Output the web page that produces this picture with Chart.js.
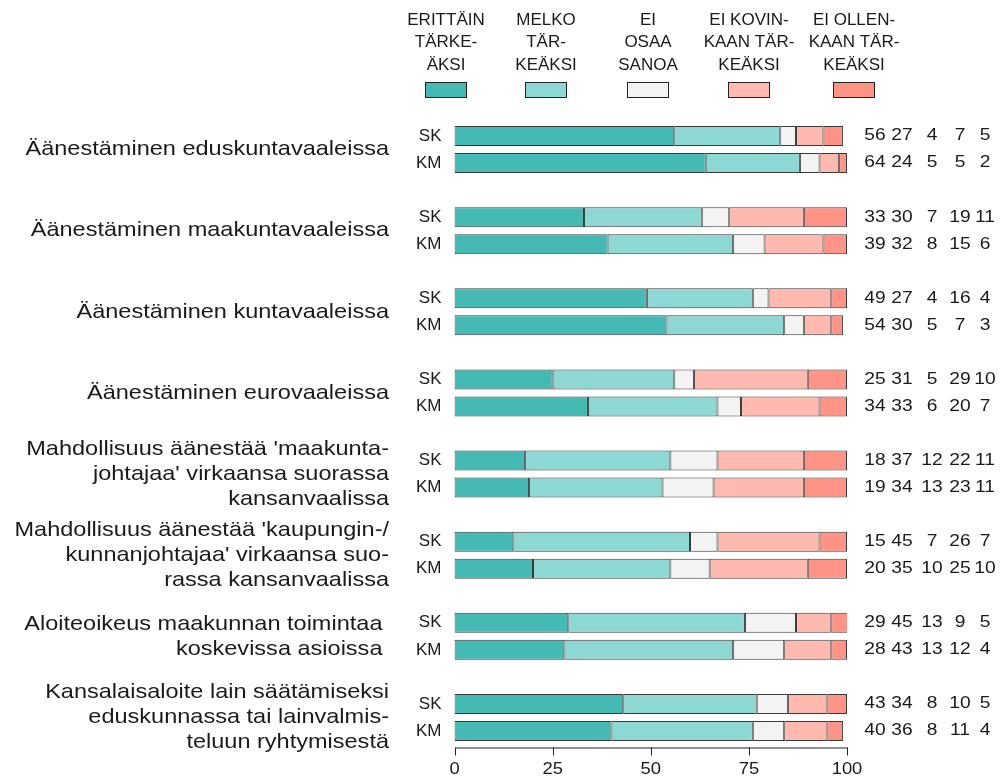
<!DOCTYPE html>
<html lang="fi">
<head>
    <meta charset="UTF-8">
    <title>Äänestäminen ja vaikuttaminen</title>
    <script src="https://cdn.jsdelivr.net/npm/chart.js"></script>
    <style>
        html, body { margin: 0; padding: 0; background: #fff; }
        #wrap { width: 1001px; height: 780px; position: relative; }
    </style>
</head>
<body>
    <div id="wrap"><canvas id="chart"></canvas></div>

    <script>
        // Data
        const groupLabels = [
            ["Äänestäminen eduskuntavaaleissa"],
            ["Äänestäminen maakuntavaaleissa"],
            ["Äänestäminen kuntavaaleissa"],
            ["Äänestäminen eurovaaleissa"],
            ["Mahdollisuus äänestää 'maakunta-", "johtajaa' virkaansa suorassa", "kansanvaalissa"],
            ["Mahdollisuus äänestää 'kaupungin-/", "kunnanjohtajaa' virkaansa suo-", "rassa kansanvaalissa"],
            ["Aloiteoikeus maakunnan toimintaa ", "koskevissa asioissa "],
            ["Kansalaisaloite lain säätämiseksi", "eduskunnassa tai lainvalmis-", "teluun ryhtymisestä"]
        ];
        const rowLabels = ["SK", "KM"];
        const seriesNames = ["Erittäin tärkeäksi", "Melko tärkeäksi", "Ei osaa sanoa", "Ei kovinkaan tärkeäksi", "Ei ollenkaan tärkeäksi"];
        const legendLines = [
            ["ERITTÄIN", "TÄRKE-", "ÄKSI"],
            ["MELKO", "TÄR-", "KEÄKSI"],
            ["EI", "OSAA", "SANOA"],
            ["EI KOVIN-", "KAAN TÄR-", "KEÄKSI"],
            ["EI OLLEN-", "KAAN TÄR-", "KEÄKSI"]
        ];
        // one row per group, values in series order
        const skValues = [
            [56, 27, 4, 7, 5],
            [33, 30, 7, 19, 11],
            [49, 27, 4, 16, 4],
            [25, 31, 5, 29, 10],
            [18, 37, 12, 22, 11],
            [15, 45, 7, 26, 7],
            [29, 45, 13, 9, 5],
            [43, 34, 8, 10, 5]
        ];
        const kmValues = [
            [64, 24, 5, 5, 2],
            [39, 32, 8, 15, 6],
            [54, 30, 5, 7, 3],
            [34, 33, 6, 20, 7],
            [19, 34, 13, 23, 11],
            [20, 35, 10, 25, 10],
            [28, 43, 13, 12, 4],
            [40, 36, 8, 11, 4]
        ];
        const xTicks = [0, 25, 50, 75, 100];

        const colors = ["#45b9b4", "#8ed8d3", "#f3f3f3", "#ffb9ae", "#ff9486"];
        const edge = "#3a3a3a";
        const ink = "#1a1a1a";

        // build category slots: SK, KM, blank gap between groups
        const slots = [];
        const slotData = []; // [group, row] or null
        groupLabels.forEach((g, gi) => {
            rowLabels.forEach((r, ri) => {
                slots.push(r);
                slotData.push([gi, ri]);
            });
            if (gi < groupLabels.length - 1) {
                slots.push("");
                slotData.push(null);
            }
        });

        const datasets = seriesNames.map((name, si) => ({
            label: name,
            data: slotData.map(s => {
                if (!s) return null;
                const src = s[1] === 0 ? skValues : kmValues;
                return src[s[0]][si];
            }),
            backgroundColor: colors[si],
            borderColor: edge,
            borderWidth: 1,
            borderSkipped: false,
            barThickness: 20,
            inflateAmount: 0
        }));

        // text drawn with a slight horizontal stretch, like the original
        function stretchText(ctx, text, x, y, align, sx) {
            const w = ctx.measureText(text).width * sx;
            let left = x;
            if (align === "right") left = x - w;
            else if (align === "center") left = x - w / 2;
            ctx.save();
            ctx.translate(left, y);
            ctx.scale(sx, 1);
            ctx.textAlign = "left";
            ctx.fillText(text, 0, 0);
            ctx.restore();
        }

        const decorations = {
            id: "decorations",
            afterDraw(chart) {
                const ctx = chart.ctx;
                const x = chart.scales.x;
                const y = chart.scales.y;
                ctx.save();
                ctx.fillStyle = ink;
                ctx.textBaseline = "middle";

                // group labels on the left
                ctx.font = "21px 'Liberation Sans', Arial, sans-serif";
                groupLabels.forEach((lines, gi) => {
                    const idx = slotData.findIndex(s => s && s[0] === gi && s[1] === 0);
                    const cy = (y.getPixelForValue(idx) + y.getPixelForValue(idx + 1)) / 2;
                    const lh = 25;
                    const top = cy - (lines.length - 1) * lh / 2;
                    lines.forEach((t, li) => stretchText(ctx, t, 389, top + li * lh, "right", 1.12));
                });

                // values on the right
                ctx.font = "16px 'Liberation Sans', Arial, sans-serif";
                const cols = [875, 902, 932, 960, 985];
                slotData.forEach((s, i) => {
                    if (!s) return;
                    const vals = (s[1] === 0 ? skValues : kmValues)[s[0]];
                    const cy = y.getPixelForValue(i);
                    vals.forEach((v, vi) => stretchText(ctx, String(v), cols[vi], cy, "center", 1.2));
                });

                // x axis, drawn a little below the bars
                const ay = chart.chartArea.bottom + 3;
                ctx.strokeStyle = "#222";
                ctx.lineWidth = 1;
                ctx.beginPath();
                ctx.moveTo(Math.round(x.getPixelForValue(xTicks[0])) + 0.5, ay + 0.5);
                ctx.lineTo(Math.round(x.getPixelForValue(xTicks[xTicks.length - 1])) + 0.5, ay + 0.5);
                xTicks.forEach(t => {
                    const px = Math.round(x.getPixelForValue(t)) + 0.5;
                    ctx.moveTo(px, ay);
                    ctx.lineTo(px, ay + 8);
                });
                ctx.stroke();
                ctx.font = "16px 'Liberation Sans', Arial, sans-serif";
                xTicks.forEach(t => stretchText(ctx, String(t), x.getPixelForValue(t), ay + 22, "center", 1.15));

                // legend at the top
                const legendX = [446, 546, 648, 749, 854];
                ctx.font = "17px 'Liberation Sans', Arial, sans-serif";
                legendLines.forEach((lines, li) => {
                    lines.forEach((t, k) => stretchText(ctx, t, legendX[li], 20 + k * 22.5, "center", 1.0));
                    ctx.fillStyle = chart.data.datasets[li].backgroundColor;
                    ctx.fillRect(legendX[li] - 21, 82, 42, 16);
                    ctx.strokeStyle = "#222";
                    ctx.strokeRect(legendX[li] - 20.5, 82.5, 41, 15);
                    ctx.fillStyle = ink;
                });
                ctx.restore();
            }
        };

        new Chart(document.getElementById("chart"), {
            type: "bar",
            data: { labels: slots, datasets: datasets },
            options: {
                indexAxis: "y",
                responsive: true,
                maintainAspectRatio: false,
                animation: false,
                layout: { padding: { top: 122.5, right: 154, bottom: 0, left: 0 } },
                plugins: {
                    legend: { display: false },
                    tooltip: { enabled: false }
                },
                scales: {
                    x: {
                        stacked: true,
                        min: 0,
                        max: 100,
                        grid: { display: false },
                        border: { display: false },
                        ticks: { display: false, stepSize: 25 },
                        afterFit(scale) { scale.height = 35.5; }
                    },
                    y: {
                        stacked: true,
                        grid: { display: false },
                        border: { display: false },
                        ticks: {
                            color: ink,
                            padding: 5,
                            autoSkip: false,
                            font: { family: "'Liberation Sans', Arial, sans-serif", size: 17 }
                        },
                        afterFit(scale) { scale.width = 454.5; }
                    }
                }
            },
            plugins: [decorations]
        });
    </script>
</body>
</html>
